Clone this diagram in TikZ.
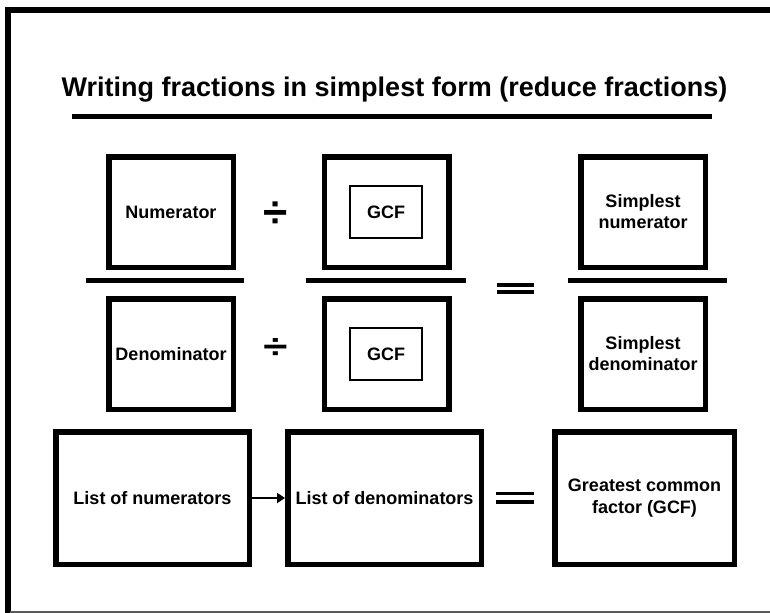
\documentclass[tikz,border=0pt]{standalone}
\usepackage{fontspec}
\setmainfont{Liberation Sans}
\usepackage{tikz}
\usetikzlibrary{positioning,arrows.meta}

\newlength\pxu
\setlength\pxu{0.75pt}

\begin{document}
\begin{tikzpicture}[x=0.75pt,y=-0.75pt,
    boxfont/.style={font=\fontsize{13.5}{15.75}\selectfont\bfseries},
    bigbox/.style={draw,line width=5.5\pxu,minimum width=124.5\pxu,minimum height=110.5\pxu,inner sep=0pt,align=center,boxfont},
    listbox/.style={bigbox,minimum width=193.5\pxu,minimum height=132.5\pxu,font=\fontsize{13.5}{17}\selectfont\bfseries},
    gcfbox/.style={draw,line width=2.3\pxu,minimum width=71.7\pxu,minimum height=51.7\pxu,inner sep=0pt,boxfont},
    divsign/.style={inner sep=0pt,font=\fontsize{33}{33}\selectfont\bfseries},
    fracline/.style={line width=5\pxu}]
                \useasboundingbox (0,0) rectangle (770,613);
                % frame
                \draw[line width=6\pxu] (7.5,613) -- (7.5,10) -- (770,10);
                \draw[gray!70!black,line width=1.5\pxu] (10,612.2) -- (770,612.2);
                % title
                \node[anchor=base,font=\fontsize{20.25}{24}\selectfont\bfseries] (title) at (394.5,97)
                    {Writing fractions in simplest form (reduce fractions)};
                \draw[line width=5\pxu] (72,117) -- (712,117);
                % fraction: numerators
                \node[bigbox] (num) at (171,212) {Numerator};
                \node[divsign] (diva) at (275.5,215) {÷};
                \node[bigbox] (gcfa) at (386.5,212) {};
                \node[gcfbox] (gcfain) at (386,212) {GCF};
                \node[bigbox] (simnum) at (643,212) {Simplest\\numerator};
                % fraction lines
                \draw[fracline] (86,280) -- (244,280);
                \draw[fracline] (306,280) -- (466,280);
                \draw[fracline] (568,280) -- (727,280);
                \draw[line width=4\pxu] (497,285) -- (534,285) (497,292) -- (534,292);
                % fraction: denominators
                \node[bigbox] (den) at (171,354) {Denominator};
                \node[divsign,yscale=0.78,transform shape] (divb) at (275.5,348.5) {÷};
                \node[bigbox] (gcfb) at (386.5,354) {};
                \node[gcfbox] (gcfbin) at (386,354) {GCF};
                \node[bigbox] (simden) at (643,354) {Simplest\\denominator};
                % finding the GCF
                \node[listbox] (numlist) at (152.5,498) {List of numerators};
                \node[listbox] (denlist) at (384.5,498) {List of denominators};
                \node[listbox,minimum width=179.5\pxu] (gcfres) at (644.5,498) {Greatest common\\factor (GCF)};
                \draw[line width=2\pxu,-{Triangle[length=6pt,width=7.5pt]}] (numlist) -- (denlist);
                \draw[line width=3.5\pxu] (496,493.5) -- (534,493.5) (496,502) -- (534,502);
            \end{tikzpicture}
\end{document}
